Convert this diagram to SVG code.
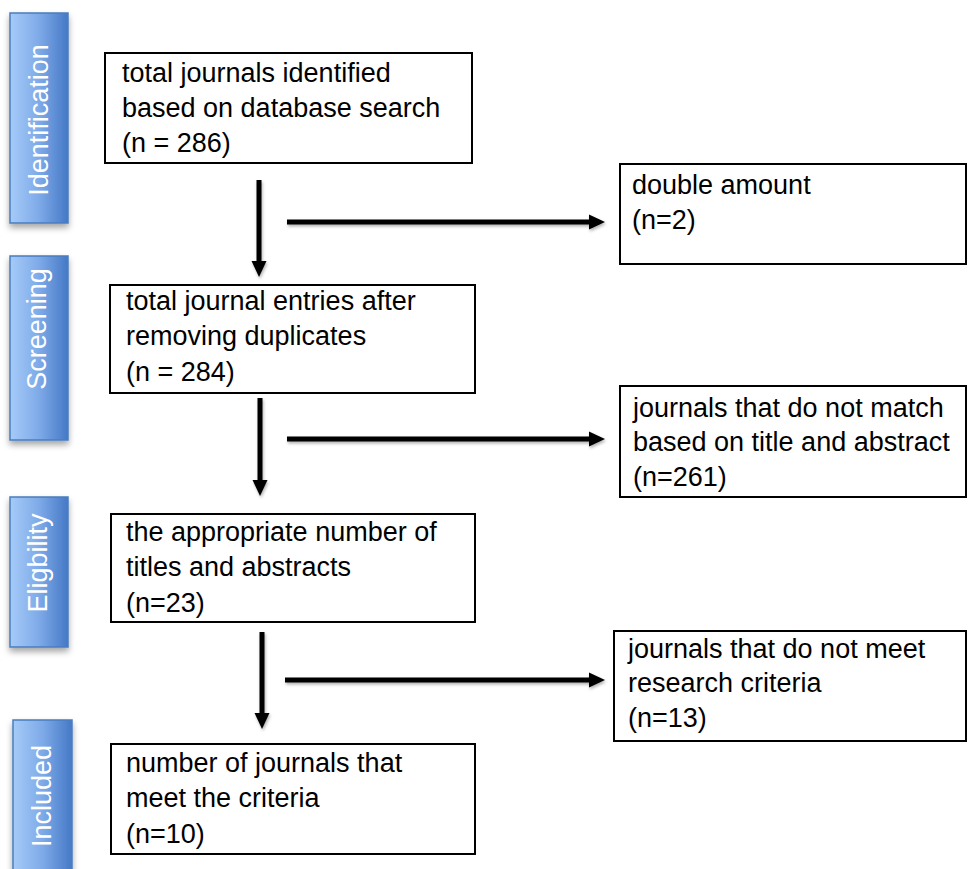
<svg xmlns="http://www.w3.org/2000/svg" width="971" height="869" viewBox="0 0 971 869">
<style>
.box{fill:#fff;stroke:#000;stroke-width:2}
.t{font-family:"Liberation Sans",Arial,sans-serif;font-size:27px;fill:#000}
.bar{fill:url(#bg);stroke:#4a7dbf;stroke-width:1.5;filter:url(#sh)}
.bt{font-family:"Liberation Sans",Arial,sans-serif;font-size:27px;fill:#fff;text-anchor:middle}
.ar{stroke:#000;stroke-width:5;fill:none}
</style>
<defs>
<linearGradient id="bg" x1="0" y1="0" x2="1" y2="0">
<stop offset="0" stop-color="#a6cbf8"/>
<stop offset="0.5" stop-color="#7eaae8"/>
<stop offset="1" stop-color="#4579c6"/>
</linearGradient>
<filter id="sh" x="-30%" y="-10%" width="160%" height="125%">
<feDropShadow dx="0" dy="4" stdDeviation="3" flood-color="#000" flood-opacity="0.35"/>
</filter>
<filter id="ash" filterUnits="userSpaceOnUse" x="0" y="0" width="971" height="869">
<feDropShadow dx="1" dy="2" stdDeviation="1.5" flood-color="#000" flood-opacity="0.3"/>
</filter>
<marker id="ah" markerWidth="3.2" markerHeight="3.2" refX="0.2" refY="1.5" orient="auto" markerUnits="strokeWidth" viewBox="0 0 3.2 3">
<path d="M0,0 L3.2,1.5 L0,3 Z" fill="#000"/>
</marker>
</defs>

<g id="stage-identification">
<rect class="bar" x="10" y="13" width="58" height="210"/>
<text class="bt" transform="translate(48,120) rotate(-90)">Identification</text>
</g>
<g id="stage-screening">
<rect class="bar" x="10" y="256" width="58" height="184"/>
<text class="bt" transform="translate(46,329) rotate(-90)">Screening</text>
</g>
<g id="stage-eligibility">
<rect class="bar" x="10" y="497" width="58" height="150"/>
<text class="bt" transform="translate(47,563) rotate(-90)">Eligbility</text>
</g>
<g id="stage-included">
<rect class="bar" x="13" y="720" width="59" height="160"/>
<text class="bt" transform="translate(51,796) rotate(-90)">Included</text>
</g>

<g id="n-identified">
<rect class="box" x="105" y="53" width="367" height="110"/>
<text class="t" x="122" y="82">total journals identified</text>
<text class="t" x="122" y="117">based on database search</text>
<text class="t" x="122" y="152">(n = 286)</text>
</g>
<g id="n-duplicates">
<rect class="box" x="620" y="164" width="346" height="100"/>
<text class="t" x="632" y="194">double amount</text>
<text class="t" x="632" y="229">(n=2)</text>
</g>
<g id="n-screened">
<rect class="box" x="110" y="285" width="365" height="108"/>
<text class="t" x="126" y="310">total journal entries after</text>
<text class="t" x="126" y="345">removing duplicates</text>
<text class="t" x="126" y="381">(n = 284)</text>
</g>
<g id="n-excluded-title">
<rect class="box" x="620" y="386" width="346" height="111"/>
<text class="t" x="633" y="417">journals that do not match</text>
<text class="t" x="633" y="451">based on title and abstract</text>
<text class="t" x="633" y="486">(n=261)</text>
</g>
<g id="n-eligible">
<rect class="box" x="111" y="514" width="364" height="108"/>
<text class="t" x="126" y="541">the appropriate number of</text>
<text class="t" x="126" y="576">titles and abstracts</text>
<text class="t" x="126" y="612">(n=23)</text>
</g>
<g id="n-excluded-criteria">
<rect class="box" x="614" y="631" width="352" height="110"/>
<text class="t" x="628" y="658">journals that do not meet</text>
<text class="t" x="628" y="692">research criteria</text>
<text class="t" x="628" y="727">(n=13)</text>
</g>
<g id="n-included">
<rect class="box" x="111" y="744" width="364" height="110"/>
<text class="t" x="126" y="772">number of journals that</text>
<text class="t" x="126" y="807">meet the criteria</text>
<text class="t" x="126" y="843">(n=10)</text>
</g>

<g id="connectors" filter="url(#ash)">
<line class="ar" x1="259" y1="180" x2="259" y2="262" marker-end="url(#ah)"/>
<line class="ar" x1="287" y1="222" x2="590" y2="222" marker-end="url(#ah)"/>
<line class="ar" x1="260" y1="398" x2="260" y2="481" marker-end="url(#ah)"/>
<line class="ar" x1="287" y1="439" x2="590" y2="439" marker-end="url(#ah)"/>
<line class="ar" x1="262" y1="632" x2="262" y2="714" marker-end="url(#ah)"/>
<line class="ar" x1="285" y1="680" x2="590" y2="680" marker-end="url(#ah)"/>
</g>
</svg>
